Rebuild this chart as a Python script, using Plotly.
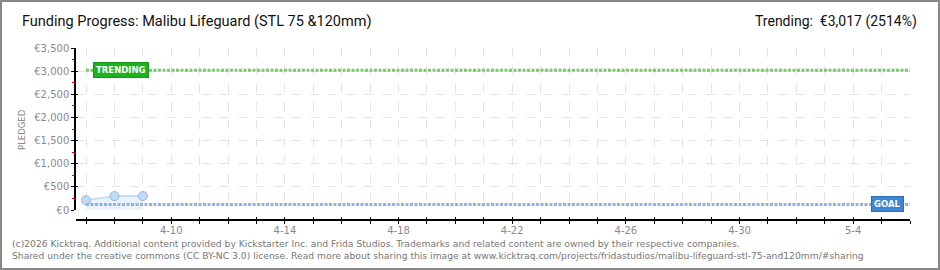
import plotly.graph_objects as go
import datetime as dt

# ---- data ----
dates = ["2026-04-07", "2026-04-08", "2026-04-09"]
pledged = [210, 300, 300]
goal = 120
trending = 3017
line_start = "2026-04-07"
line_end = "2026-05-06"
title_text = "Funding Progress: Malibu Lifeguard (STL 75 &120mm)"
trend_text = "Trending:  €3,017 (2514%)"
footer1 = "(c)2026 Kicktraq. Additional content provided by Kickstarter Inc. and Frida Studios. Trademarks and related content are owned by their respective companies."
footer2 = "Shared under the creative commons (CC BY-NC 3.0) license. Read more about sharing this image at www.kicktraq.com/projects/fridastudios/malibu-lifeguard-stl-75-and120mm/#sharing"

# tick days
d0 = dt.date(2026, 4, 7)
tick_days = [d0 + dt.timedelta(days=i) for i in range(30)]
tick_vals = [d.isoformat() for d in tick_days]
tick_text = [f"{d.month}-{d.day}" if (i - 3) % 4 == 0 else "" for i, d in enumerate(tick_days)]
y_major = list(range(0, 3501, 500))
y_minor = list(range(250, 3500, 500))

W, H = 940, 270
L, R, T, B = 76, 30, 48, 50
PW, PH = W - L - R, H - T - B

def px(x):
    return (x - L) / PW

def py(y):
    return (H - B - y) / PH

x_range = ["2026-04-06 15:33", "2026-05-06 00:00"]
ydom0 = 10 / PH

fig = go.Figure()

fig.add_trace(go.Scatter(
    x=dates, y=pledged, mode="lines+markers",
    line=dict(color="#bcd6f3", width=1.5),
    fill="tozeroy", fillcolor="rgba(214,230,248,0.5)",
    marker=dict(size=9, color="#c3dbf6", line=dict(color="#8fb5e2", width=1)),
    hoverinfo="skip", showlegend=False,
))
fig.add_trace(go.Scatter(
    x=[line_start, line_end], y=[goal, goal], mode="lines",
    line=dict(color="#8db4e0", width=3, dash="3px,1.5px"),
    hoverinfo="skip", showlegend=False,
))
fig.add_trace(go.Scatter(
    x=[line_start, line_end], y=[trending, trending], mode="lines",
    line=dict(color="#77c96a", width=3, dash="3px,1.5px"),
    hoverinfo="skip", showlegend=False,
))

grid = dict(showgrid=True, gridcolor="#e4e4e4", griddash="dash", gridwidth=1)
tickfont = dict(family="DejaVu Sans", size=10, color="#8a8a8a")

fig.update_layout(
    width=W, height=H,
    margin=dict(l=L, r=R, t=T, b=B),
    paper_bgcolor="white", plot_bgcolor="white",
    showlegend=False,
    xaxis=dict(
        type="date", range=x_range, anchor="free", position=0,
        tickmode="array", tickvals=tick_vals, ticktext=tick_text,
        ticks="outside", ticklen=3, tickcolor="black", tickwidth=1,
        showline=True, linecolor="black", linewidth=1.5,
        ticklabelstandoff=-2,
        tickfont=tickfont, zeroline=False, **grid,
    ),
    xaxis2=dict(
        type="date", range=x_range, anchor="free", position=0, overlaying="x",
        tickmode="array", tickvals=tick_vals, ticktext=["" for _ in tick_vals],
        ticks="inside", ticklen=3, tickcolor="black", tickwidth=1,
        showline=False, showgrid=False, zeroline=False,
    ),
    yaxis=dict(
        range=[0, 3500], domain=[ydom0, 1],
        tickmode="array", tickvals=y_major,
        ticktext=[f"€{v:,}" for v in y_major],
        ticks="outside", ticklen=3, tickcolor="black", tickwidth=1,
        showline=True, linecolor="black", linewidth=1.5,
        tickfont=tickfont, zeroline=False, **grid,
    ),
    yaxis2=dict(
        range=[0, 3500], domain=[ydom0, 1], overlaying="y", anchor="x",
        tickmode="array", tickvals=y_major, ticktext=["" for _ in y_major],
        ticks="inside", ticklen=2, tickcolor="black", tickwidth=1,
        showticklabels=False, showgrid=False, zeroline=False, showline=False,
    ),
    yaxis3=dict(
        range=[0, 3500], domain=[ydom0, 1], overlaying="y", anchor="x",
        tickmode="array", tickvals=y_minor, ticktext=["" for _ in y_minor],
        ticks="outside", ticklen=3, tickcolor="#dd0000", tickwidth=1,
        showticklabels=False, showgrid=False, zeroline=False, showline=False,
    ),
)

# invisible traces to activate overlay axes
fig.add_trace(go.Scatter(x=[dates[0]], y=[0], xaxis="x2", yaxis="y2", mode="markers",
                         marker=dict(opacity=0), hoverinfo="skip", showlegend=False))
fig.add_trace(go.Scatter(x=[dates[0]], y=[0], xaxis="x", yaxis="y3", mode="markers",
                         marker=dict(opacity=0), hoverinfo="skip", showlegend=False))

tfont = dict(family="Roboto, sans-serif", size=14.5, color="#111111")
ann = []
ann.append(dict(text=title_text, xref="paper", yref="paper", x=px(20), y=py(22),
                xanchor="left", yanchor="middle", showarrow=False, font=tfont))
ann.append(dict(text=trend_text, xref="paper", yref="paper", x=px(919), y=py(22),
                xanchor="right", yanchor="middle", showarrow=False,
                font=dict(family="Roboto, sans-serif", size=14, color="#111111")))
ann.append(dict(text="PLEDGED", xref="paper", yref="paper", x=px(22), y=py(130),
                xanchor="center", yanchor="middle", showarrow=False, textangle=-90,
                font=dict(family="DejaVu Sans", size=8.5, color="#888888")))
ann.append(dict(text=footer1, xref="paper", yref="paper", x=px(10), y=py(243),
                xanchor="left", yanchor="middle", showarrow=False,
                font=dict(family="DejaVu Sans", size=9.2, color="#777777")))
ann.append(dict(text=footer2, xref="paper", yref="paper", x=px(10), y=py(255),
                xanchor="left", yanchor="middle", showarrow=False,
                font=dict(family="DejaVu Sans", size=9.2, color="#777777")))
ann.append(dict(text="<b>TRENDING</b>", xref="paper", yref="y", x=px(93), y=trending,
                xanchor="left", yanchor="middle", showarrow=False,
                bgcolor="#1db31d", bordercolor="#169416", borderwidth=1, borderpad=2,
                font=dict(family="DejaVu Sans", size=8.5, color="white")))
ann.append(dict(text="<b>GOAL</b>", xref="paper", yref="y", x=px(904), y=goal,
                xanchor="right", yanchor="middle", showarrow=False,
                bgcolor="#3b86d6", bordercolor="#2f6fb5", borderwidth=1, borderpad=2,
                font=dict(family="DejaVu Sans", size=8.5, color="white")))
fig.update_layout(annotations=ann)

# outer frame
fig.add_shape(type="rect", xref="paper", yref="paper",
              x0=px(1), x1=px(939), y0=py(269), y1=py(1),
              line=dict(color="#888888", width=2), fillcolor="rgba(0,0,0,0)", layer="above")

fig.write_html("out.html")
